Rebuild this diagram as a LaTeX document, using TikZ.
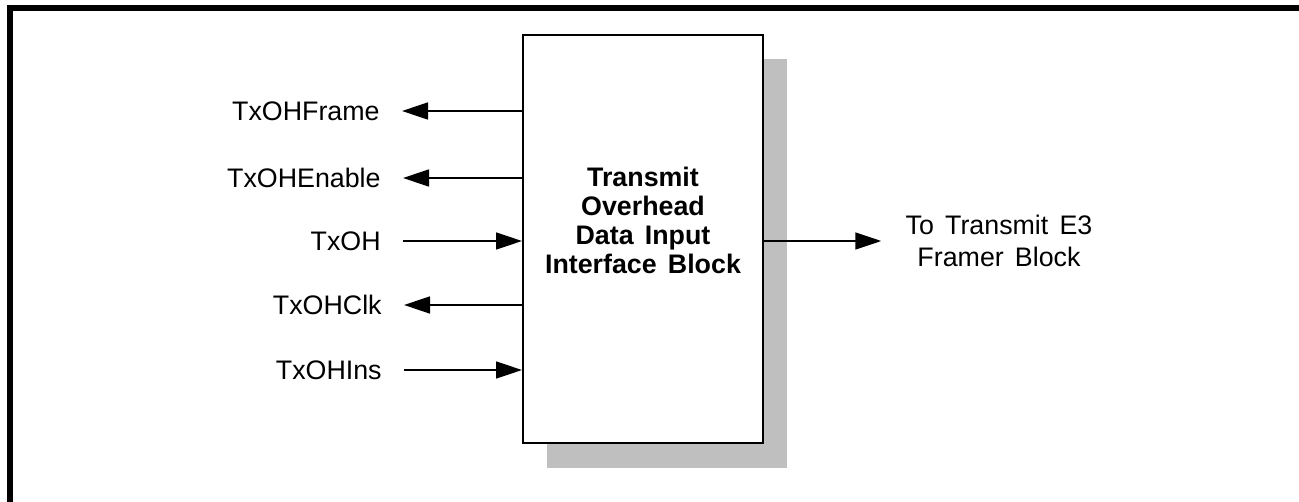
\documentclass[tikz,border=0pt]{standalone}
\usepackage{fontspec}
\setmainfont[WordSpace={1.5,1,1}]{Liberation Sans}
\usetikzlibrary{arrows.meta}

\begin{document}
\begin{tikzpicture}[x=0.5pt,y=-0.5pt,
  sig/.style={line width=0.75pt,-{Triangle[length=13pt,width=8.5pt]}},
  pin/.style={anchor=east,inner sep=0pt,font=\fontsize{13.4}{14.5}\selectfont}]
\useasboundingbox (0,0) rectangle (1299,502);
\draw[line width=3pt] (10,502) -- (10,8) -- (1299,8);
\fill[black!25] (547,59) rectangle (787,468);
\node[draw, fill=white, line width=1pt, minimum width=120pt, minimum height=204pt, inner sep=0pt] (blk) at (643,239) {};
\node[align=center, inner sep=0pt, font=\bfseries\fontsize{13.4}{14.5}\selectfont] (ttl) at (643,220) {Transmit\\Overhead\\Data Input\\Interface Block};
\node[pin] (frm) at (380,111) {TxOHFrame};
\node[pin] (ena) at (381,178) {TxOHEnable};
\node[pin] (txoh) at (381,241) {TxOH};
\node[pin] (clk) at (382,305) {TxOHClk};
\node[pin] (ins) at (382,370) {TxOHIns};
\node[align=center, inner sep=0pt, font=\fontsize{13.4}{16}\selectfont] (dst) at (999,241) {To Transmit E3\\Framer Block};
\draw[sig] (blk.west |- frm) -- ([xshift=11pt]frm.east);
\draw[sig] (blk.west |- ena) -- ([xshift=11pt]ena.east);
\draw[sig] ([xshift=11pt]txoh.east) -- (blk.west |- txoh);
\draw[sig] (blk.west |- clk) -- ([xshift=11pt]clk.east);
\draw[sig] ([xshift=11pt]ins.east) -- (blk.west |- ins);
\draw[sig] (blk.east |- dst) -- ([xshift=-12pt]dst.west);
\end{tikzpicture}
\end{document}
